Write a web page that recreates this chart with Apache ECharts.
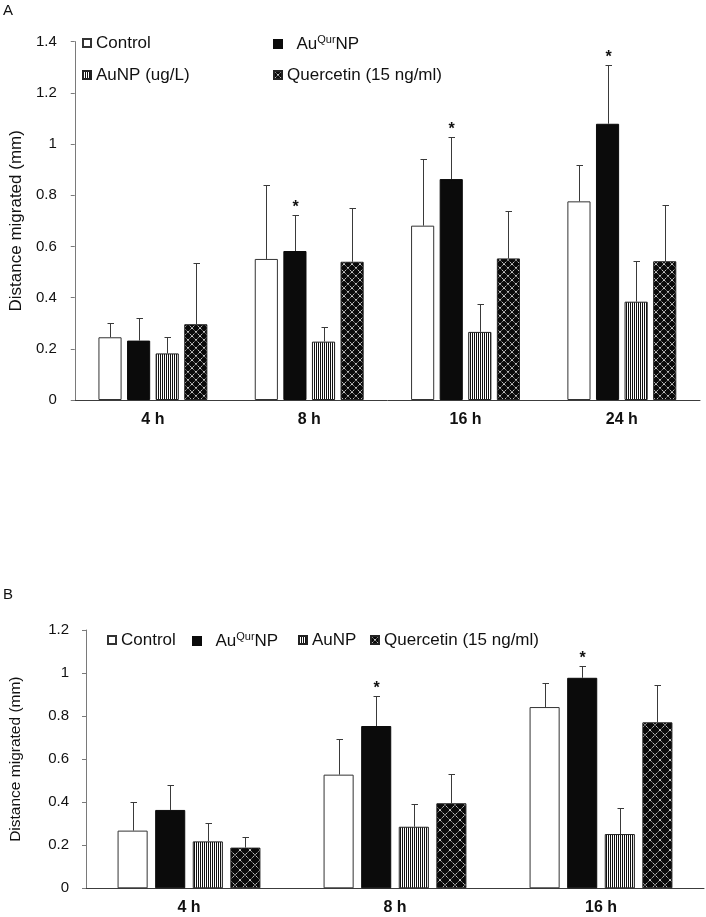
<!DOCTYPE html>
<html>
<head>
<meta charset="utf-8">
<script src="https://cdn.jsdelivr.net/npm/echarts@6/dist/echarts.min.js"></script>
<style>
html,body{margin:0;padding:0;background:#fff;}
#c{width:706px;height:917px;}
</style>
</head>
<body>
<div id="c"></div>
<script>
// ---------- Data: panel A ----------
const catsA = ['4 h', '8 h', '16 h', '24 h'];
const controlA = [0.245, 0.551, 0.681, 0.776];
const controlErrA = [0.055, 0.288, 0.259, 0.141];
const auqurA = [0.232, 0.582, 0.863, 1.079];
const auqurErrA = [0.088, 0.139, 0.164, 0.231];
const aunpA = [0.182, 0.228, 0.266, 0.384];
const aunpErrA = [0.063, 0.058, 0.110, 0.159];
const querA = [0.296, 0.540, 0.553, 0.542];
const querErrA = [0.239, 0.210, 0.185, 0.221];
const sigA = ['', '*', '*', '*'];
const yTicksA = [0, 0.2, 0.4, 0.6, 0.8, 1, 1.2, 1.4];

// ---------- Data: panel B ----------
const catsB = ['4 h', '8 h', '16 h'];
const controlB = [0.268, 0.528, 0.842];
const controlErrB = [0.134, 0.167, 0.110];
const auqurB = [0.364, 0.754, 0.978];
const auqurErrB = [0.115, 0.139, 0.054];
const aunpB = [0.218, 0.286, 0.252];
const aunpErrB = [0.085, 0.107, 0.122];
const querB = [0.189, 0.395, 0.771];
const querErrB = [0.049, 0.137, 0.172];
const sigB = ['', '*', '*'];
const yTicksB = [0, 0.2, 0.4, 0.6, 0.8, 1, 1.2];

const FONT = '"Liberation Sans", Arial, Helvetica, sans-serif';

// ---------- patterns ----------
function stripeCanvas() {
  const c = document.createElement('canvas');
  c.width = 2; c.height = 2;
  const g = c.getContext('2d');
  g.fillStyle = '#ffffff'; g.fillRect(0, 0, 2, 2);
  g.fillStyle = '#111111'; g.fillRect(0, 0, 1, 2);
  return c;
}
function latticeCanvas(n) {
  const c = document.createElement('canvas');
  c.width = n; c.height = n;
  const g = c.getContext('2d');
  g.fillStyle = '#0a0a0a'; g.fillRect(0, 0, n, n);
  g.strokeStyle = 'rgba(250,250,250,0.95)';
  g.lineWidth = 1;
  g.setLineDash([1.2, 0.9]);
  g.beginPath();
  g.moveTo(0, 0); g.lineTo(n, n);
  g.moveTo(n, 0); g.lineTo(0, n);
  g.stroke();
  return c;
}
const stripePat = { image: stripeCanvas(), repeat: 'repeat' };
const latticeA = { image: latticeCanvas(8), repeat: 'repeat' };
const latticeB = { image: latticeCanvas(10), repeat: 'repeat' };

const styles = {
  control: { color: '#ffffff', borderColor: '#333333', borderWidth: 1 },
  auqur: { color: '#0b0b0b', borderColor: '#0b0b0b', borderWidth: 1 },
  aunp: { color: stripePat, borderColor: '#222222', borderWidth: 1 },
  querA: { color: latticeA, borderColor: '#222222', borderWidth: 1 },
  querB: { color: latticeB, borderColor: '#222222', borderWidth: 1 }
};

function barSeries(name, idx, data, style, bw, gap) {
  return {
    type: 'bar', name: name, xAxisIndex: idx, yAxisIndex: idx,
    data: data, barWidth: bw, barGap: gap, itemStyle: style,
    emphasis: { disabled: true }, animation: false, z: 2
  };
}

function errSeries(idx, pos, vals, errs, sig, bwPct, gapPct) {
  const data = vals.map((v, k) => [k, v, errs[k]]);
  return {
    type: 'custom', name: 'err' + idx + '_' + pos, xAxisIndex: idx, yAxisIndex: idx,
    data: data, z: 3, silent: true, animation: false,
    encode: { x: 0, y: 1 },
    renderItem: function (params, api) {
      const c = api.value(0), m = api.value(1), e = api.value(2);
      const p0 = api.coord([c, m]);
      const p1 = api.coord([c, m + e]);
      const band = api.size([1, 0])[0];
      const bw = band * bwPct;
      const gap = bw * gapPct;
      const gw = 4 * bw + 3 * gap;
      let x = p0[0] - gw / 2 + bw / 2 + pos * (bw + gap);
      x = Math.round(x) + 0.5;
      const yTop = Math.round(p1[1]) + 0.5;
      const children = [
        { type: 'line', shape: { x1: x, y1: p0[1], x2: x, y2: yTop }, style: { stroke: '#3a3a3a', lineWidth: 1 } },
        { type: 'line', shape: { x1: x - 3, y1: yTop, x2: x + 3.5, y2: yTop }, style: { stroke: '#3a3a3a', lineWidth: 1 } }
      ];
      if (sig && sig[c]) {
        children.push({
          type: 'text', x: x, y: yTop - 8,
          style: { text: sig[c], fill: '#111', font: 'bold 16px ' + FONT, align: 'center', verticalAlign: 'middle' }
        });
      }
      return { type: 'group', children: children };
    }
  };
}

const BW_A = 0.148, GAP_A = 0.236;
const BW_B = 0.146, GAP_B = 0.25;

const legendText = { fontFamily: FONT, fontSize: 17, color: '#111', lineHeight: 18,
  rich: { sup: { fontSize: 11, fontFamily: FONT, color: '#111', padding: [0, 0, 9, 0] } } };

function legendItem(name, left, top, label) {
  return {
    data: [name], left: left, top: top, padding: 0, itemWidth: 8, itemHeight: 8,
    icon: 'rect', selectedMode: false,
    textStyle: legendText,
    formatter: function () { return label; }
  };
}

const option = {
  animation: false,
  backgroundColor: '#ffffff',
  textStyle: { fontFamily: FONT },
  graphic: [
    { type: 'text', left: 3, top: 3, style: { text: 'A', font: '15px ' + FONT, fill: '#111' } },
    { type: 'text', left: 3, top: 587, style: { text: 'B', font: '15px ' + FONT, fill: '#111' } }
  ],
  legend: [
    legendItem('Control', 82, 34, 'Control'),
    legendItem('AuQurNP', 273, 34, '  Au{sup|Qur}NP'),
    legendItem('AuNP (ug/L)', 82, 66, 'AuNP (ug/L)'),
    legendItem('Quercetin (15 ng/ml)', 273, 66, 'Quercetin (15 ng/ml)'),
    legendItem('Control', 107, 631, 'Control'),
    legendItem('AuQurNP', 192, 631, '  Au{sup|Qur}NP'),
    legendItem('AuNP', 298, 631, 'AuNP'),
    legendItem('Quercetin (15 ng/ml)', 370, 631, 'Quercetin (15 ng/ml)')
  ],
  grid: [
    { left: 72, top: 41.6, width: 628, height: 358.4 },
    { left: 80, top: 630, width: 624, height: 258.3 }
  ],
  xAxis: [
    { type: 'category', gridIndex: 0, data: catsA,
      axisLine: { lineStyle: { color: '#3c3c3c', width: 1 } }, axisTick: { show: false },
      axisLabel: { fontFamily: FONT, fontSize: 16, fontWeight: 'bold', color: '#111', margin: 12 } },
    { type: 'category', gridIndex: 1, data: catsB,
      axisLine: { lineStyle: { color: '#3c3c3c', width: 1 } }, axisTick: { show: false },
      axisLabel: { fontFamily: FONT, fontSize: 16, fontWeight: 'bold', color: '#111', margin: 11 } }
  ],
  yAxis: [
    { type: 'value', gridIndex: 0, min: yTicksA[0], max: yTicksA[yTicksA.length - 1], interval: 0.2,
      name: 'Distance migrated (mm)', nameLocation: 'middle', nameGap: 44,
      nameTextStyle: { fontFamily: FONT, fontSize: 17, color: '#111' },
      axisLine: { show: true, lineStyle: { color: '#7a7a7a' } },
      axisTick: { show: true, length: 4, inside: false, lineStyle: { color: '#7a7a7a' } },
      splitLine: { show: false },
      axisLabel: { fontFamily: FONT, fontSize: 15, color: '#111', margin: 18 } },
    { type: 'value', gridIndex: 1, min: yTicksB[0], max: yTicksB[yTicksB.length - 1], interval: 0.2,
      name: 'Distance migrated (mm)', nameLocation: 'middle', nameGap: 62,
      nameTextStyle: { fontFamily: FONT, fontSize: 15.5, color: '#111' },
      axisLine: { show: true, lineStyle: { color: '#7a7a7a' } },
      axisTick: { show: true, length: 4, inside: false, lineStyle: { color: '#7a7a7a' } },
      splitLine: { show: false },
      axisLabel: { fontFamily: FONT, fontSize: 15, color: '#111', margin: 17 } }
  ],
  series: [
    barSeries('Control', 0, controlA, styles.control, (BW_A * 100) + '%', (GAP_A * 100) + '%'),
    barSeries('AuQurNP', 0, auqurA, styles.auqur, (BW_A * 100) + '%', (GAP_A * 100) + '%'),
    barSeries('AuNP (ug/L)', 0, aunpA, styles.aunp, (BW_A * 100) + '%', (GAP_A * 100) + '%'),
    barSeries('Quercetin (15 ng/ml)', 0, querA, styles.querA, (BW_A * 100) + '%', (GAP_A * 100) + '%'),
    errSeries(0, 0, controlA, controlErrA, null, BW_A, GAP_A),
    errSeries(0, 1, auqurA, auqurErrA, sigA, BW_A, GAP_A),
    errSeries(0, 2, aunpA, aunpErrA, null, BW_A, GAP_A),
    errSeries(0, 3, querA, querErrA, null, BW_A, GAP_A),

    barSeries('Control', 1, controlB, styles.control, (BW_B * 100) + '%', (GAP_B * 100) + '%'),
    barSeries('AuQurNP', 1, auqurB, styles.auqur, (BW_B * 100) + '%', (GAP_B * 100) + '%'),
    barSeries('AuNP', 1, aunpB, styles.aunp, (BW_B * 100) + '%', (GAP_B * 100) + '%'),
    barSeries('Quercetin (15 ng/ml)', 1, querB, styles.querB, (BW_B * 100) + '%', (GAP_B * 100) + '%'),
    errSeries(1, 0, controlB, controlErrB, null, BW_B, GAP_B),
    errSeries(1, 1, auqurB, auqurErrB, sigB, BW_B, GAP_B),
    errSeries(1, 2, aunpB, aunpErrB, null, BW_B, GAP_B),
    errSeries(1, 3, querB, querErrB, null, BW_B, GAP_B)
  ]
};

const chart = echarts.init(document.getElementById('c'), null, { renderer: 'canvas' });
chart.setOption(option);
</script>
</body>
</html>
